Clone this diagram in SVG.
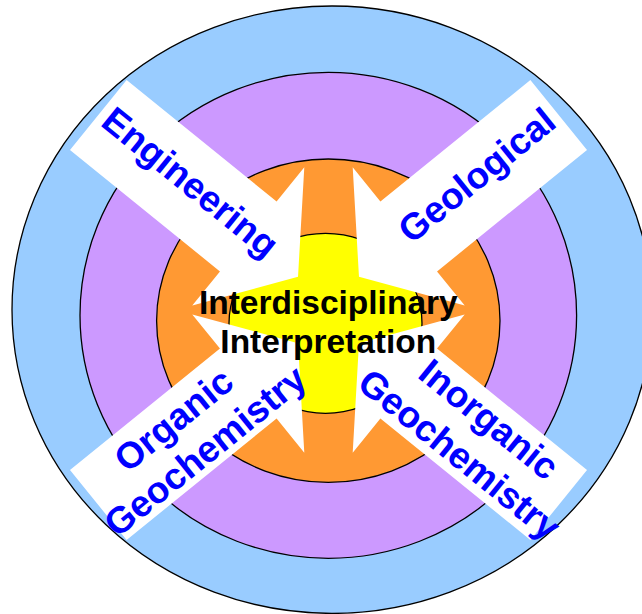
<svg xmlns="http://www.w3.org/2000/svg" width="642" height="614" viewBox="0 0 642 614">
  <style>
    .ring { stroke: #000; stroke-width: 1.3; }
    .arrow { fill: #fff; stroke: none; }
    .label { font-family: "Liberation Sans", Arial, sans-serif; font-weight: bold; font-size: 37px; fill: #0000FF; }
    .center { font-family: "Liberation Sans", Arial, sans-serif; font-weight: bold; font-size: 33.5px; fill: #000; text-anchor: middle; }
  </style>
  <defs>
    <!-- wide arrow pointing along +x, tail centred at the origin -->
    <polygon id="arrowFwd" points="0,-45 193,-45 193,-89 257,0 193,89 193,45 0,45"/>
    <!-- same arrow pointing along -x -->
    <polygon id="arrowBack" points="0,-45 -193,-45 -193,-89 -257,0 -193,89 -193,45 0,45"/>
  </defs>

  <rect width="642" height="614" fill="#fff"/>

  <!-- concentric rings -->
  <g id="rings">
    <ellipse class="ring" cx="332" cy="309.7" rx="320" ry="303.7" fill="#99CCFF"/>
    <ellipse class="ring" cx="328.3" cy="315.3" rx="248.3" ry="243" fill="#CC99FF"/>
    <ellipse class="ring" cx="328.3" cy="320.7" rx="171.7" ry="161.7" fill="#FF9933"/>
    <ellipse class="ring" cx="325.5" cy="323.3" rx="96.5" ry="90" fill="#FFFF00"/>
  </g>

  <!-- inward arrows with their discipline labels -->
  <g id="connectors">
    <g id="engineering" transform="translate(98.3,115) rotate(39)">
      <use href="#arrowFwd" class="arrow"/>
      <text class="label" x="7" y="7">Engineering</text>
    </g>
    <g id="geological" transform="translate(558.7,115) rotate(-39)">
      <use href="#arrowBack" class="arrow"/>
      <text class="label" x="-7" y="8" text-anchor="end">Geological</text>
    </g>
    <g id="organic" transform="translate(98.3,505) rotate(-39)">
      <use href="#arrowFwd" class="arrow"/>
      <text class="label" x="112" y="-6" text-anchor="middle">Organic</text>
      <text class="label" x="117" y="38" text-anchor="middle">Geochemistry</text>
    </g>
    <g id="inorganic" transform="translate(558.7,505) rotate(39)">
      <use href="#arrowBack" class="arrow"/>
      <text class="label" x="-108" y="-10" text-anchor="middle">Inorganic</text>
      <text class="label" x="-109" y="36" text-anchor="middle">Geochemistry</text>
    </g>
  </g>

  <!-- centre -->
  <g id="interpretation">
    <text class="center" x="328.3" y="314">Interdisciplinary</text>
    <text class="center" x="328.3" y="353.3">Interpretation</text>
  </g>
</svg>
